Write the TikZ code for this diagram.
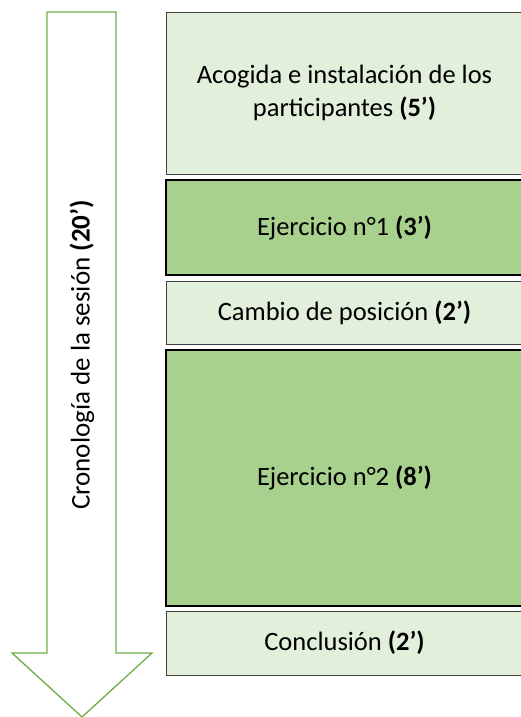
\documentclass[tikz,border=0pt]{standalone}
\usepackage{fontspec}
\setmainfont{Carlito}
\usepackage{xcolor}
\usetikzlibrary{positioning}

\definecolor{palegreen}{HTML}{E2EFDA}
\definecolor{midgreen}{HTML}{A9D18E}
\definecolor{linegreen}{HTML}{70AD47}

\begin{document}
\begin{tikzpicture}[x=1pt, y=-1pt,
    box/.style={rectangle, draw=black!75, line width=0.8pt, fill=palegreen, minimum width=357pt, align=center, font=\fontsize{26.5}{33}\selectfont, inner sep=0pt},
    darkbox/.style={box, draw=black, line width=1.6pt, fill=midgreen},
    timearrow/.style={draw=linegreen, line width=1.3pt, fill=white, line join=miter}
]
    \useasboundingbox (0,0) rectangle (521,717);

    % Left side: time arrow
    \draw[timearrow] (47,12) -- (116,12) -- (116,653) -- (152,653) -- (82,717) -- (12,653) -- (47,653) -- cycle;
    \node[rotate=90, font=\fontsize{27}{32}\selectfont] (chrono) at (82,355) {Cronología de la sesión \textbf{(20’)}};

    % Right side: session steps
    \node[box, minimum height=162pt] (welcome) at (344.5,93) {Acogida e instalación de los\\participantes \textbf{(5’)}};
    \node[darkbox, minimum height=95pt] (exone) at (344.5,227.5) {Ejercicio n°1 \textbf{(3’)}};
    \node[box, minimum height=63pt] (switch) at (344.5,312.5) {Cambio de posición \textbf{(2’)}};
    \node[darkbox, minimum height=256pt] (extwo) at (344.5,478) {Ejercicio n°2 \textbf{(8’)}};
    \node[box, minimum height=64pt] (closing) at (344.5,643) {Conclusión \textbf{(2’)}};

\end{tikzpicture}
\end{document}
